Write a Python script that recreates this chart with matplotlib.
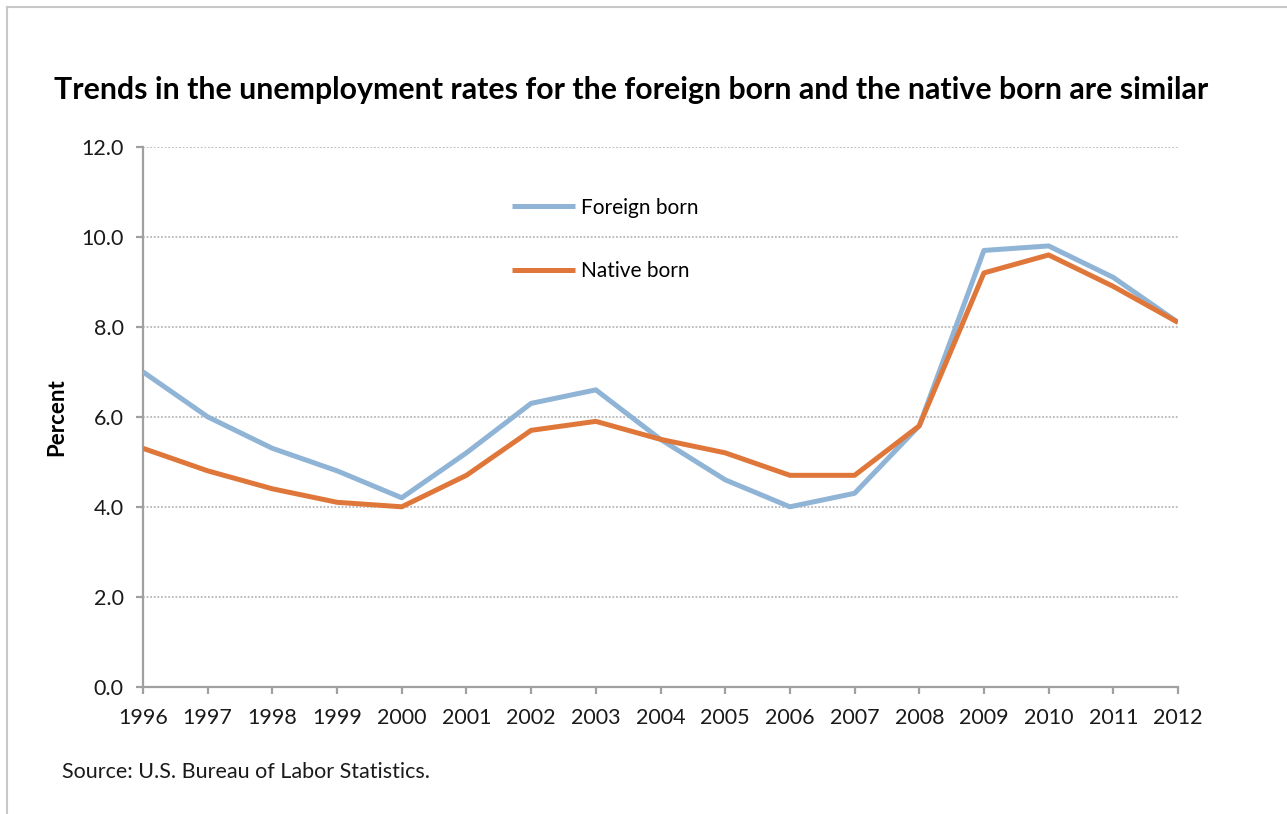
import matplotlib
matplotlib.use("Agg")
import matplotlib.pyplot as plt
from matplotlib.lines import Line2D

years = list(range(1996, 2013))
foreign_born = [7.0, 6.0, 5.3, 4.8, 4.2, 5.2, 6.3, 6.6, 5.5, 4.6, 4.0, 4.3, 5.8, 9.7, 9.8, 9.1, 8.1]
native_born = [5.3, 4.8, 4.4, 4.1, 4.0, 4.7, 5.7, 5.9, 5.5, 5.2, 4.7, 4.7, 5.8, 9.2, 9.6, 8.9, 8.1]
y_ticks = [0.0, 2.0, 4.0, 6.0, 8.0, 10.0, 12.0]

plt.rcParams['font.family'] = ['Lato', 'DejaVu Sans']

W, H = 1287, 814
fig = plt.figure(figsize=(W / 100, H / 100), dpi=100)
ax = fig.add_axes([143 / W, 1 - 686.7 / H, (1178 - 143) / W, (686.7 - 147) / H])

c_foreign = '#8FB4D6'
c_native = '#E0773A'

ax.plot(years, foreign_born, color=c_foreign, lw=3.6, label='Foreign born', solid_capstyle='butt', zorder=3)
ax.plot(years, native_born, color=c_native, lw=3.6, label='Native born', solid_capstyle='butt', zorder=4)

ax.set_xlim(years[0], years[-1])
ax.set_ylim(0, 12)
ax.set_xticks(years)
ax.set_xticklabels([str(y) for y in years])
ax.set_yticks(y_ticks)
ax.set_yticklabels([f"{v:.1f}" for v in y_ticks])

for v in y_ticks[1:]:
    ax.axhline(v, color='#b8b8b8', lw=1.3, ls=(0, (1, 1)), zorder=1)

for s in ['top', 'right']:
    ax.spines[s].set_visible(False)
for s in ['left', 'bottom']:
    ax.spines[s].set_color('#a0a0a0')
    ax.spines[s].set_linewidth(1.6)
ax.tick_params(axis='both', direction='out', length=5, width=1.6, color='#a0a0a0',
               labelsize=15.5, labelcolor='#1a1a1a')
ax.tick_params(axis='x', pad=10)
ax.tick_params(axis='y', pad=9)

ax.set_ylabel('Percent', fontsize=16, fontweight='bold', labelpad=10)

leg = ax.legend(loc='upper left', bbox_to_anchor=(0.338, 0.941), frameon=False,
                fontsize=15, handlelength=3.05, handletextpad=0.3, labelspacing=2.08)

fig.text(631 / W, 1 - 90 / H, 'Trends in the unemployment rates for the foreign born and the native born are similar',
         ha='center', va='center', fontsize=21.8, fontweight='bold', color='#000000')
fig.text(62 / W, 1 - 772 / H, 'Source: U.S. Bureau of Labor Statistics.', ha='left', va='center',
         fontsize=15.5, color='#1a1a1a')

fig.add_artist(Line2D([7 / W, 7 / W], [0, 1 - 7 / H], transform=fig.transFigure, color='#c8c8c8', lw=1.5))
fig.add_artist(Line2D([7 / W, 1], [1 - 7 / H, 1 - 7 / H], transform=fig.transFigure, color='#c8c8c8', lw=1.5))

fig.savefig('out.png', dpi=100)
